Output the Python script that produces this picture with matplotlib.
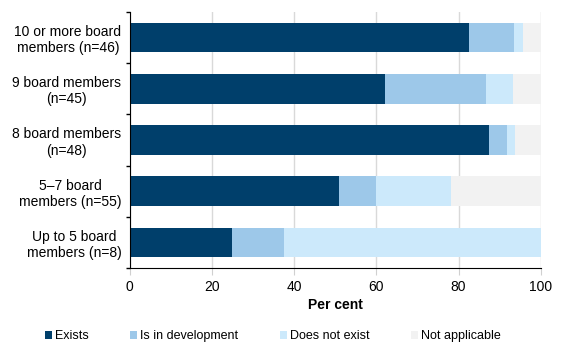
import matplotlib.pyplot as plt
import numpy as np

plt.rcParams['font.family'] = ['Liberation Sans', 'DejaVu Sans']

# categories, top to bottom
cats = ['10 or more board\nmembers (n=46)', '9 board members\n(n=45)',
        '8 board members\n(n=48)', '5\u20137 board\nmembers (n=55)',
        'Up to 5 board\nmembers (n=8)']
# per cent of each group
exists = [82.6, 62.2, 87.5, 50.9, 25.0]
in_dev = [10.9, 24.4, 4.2, 9.1, 12.5]
not_exist = [2.2, 6.7, 2.1, 18.2, 62.5]
not_app = [4.3, 6.7, 6.2, 21.8, 0.0]

series = [('Exists', exists, '#003f6b'),
          ('Is in development', in_dev, '#9dc8e9'),
          ('Does not exist', not_exist, '#cce9fb'),
          ('Not applicable', not_app, '#f2f2f2')]

fig = plt.figure(figsize=(5.65, 3.5), dpi=100)
ax = fig.add_axes([0.2296, 0.234, 0.7274, 0.732])

y = np.arange(len(cats))
left = np.zeros(len(cats))
for name, vals, col in series:
    ax.barh(y, vals, left=left, height=0.58, color=col, label=name, zorder=2)
    left += np.array(vals)

ax.set_xlim(0, 100)
ax.set_ylim(len(cats) - 0.5, -0.5)
ax.set_xticks(np.arange(0, 101, 20))
ax.set_yticks(y)
ax.set_yticklabels(cats, fontsize=10, multialignment='center')
ax.set_yticks(np.arange(-0.5, len(cats)), minor=True)
ax.tick_params(axis='y', which='major', length=0, pad=6)
ax.tick_params(axis='y', which='minor', length=3, width=1, direction='out')
ax.tick_params(axis='x', length=5, color='#d0d0d0', labelsize=10)
ax.xaxis.grid(True, color='#d9d9d9', lw=1, zorder=0)
for s in ['top', 'right']:
    ax.spines[s].set_visible(False)
ax.set_xlabel('Per cent', fontsize=10, fontweight='bold', labelpad=3)

fig.legend(loc='lower center', bbox_to_anchor=(0.483, -0.01), ncol=4, frameon=False,
           fontsize=9, handlelength=0.55, handleheight=0.55, handletextpad=0.25,
           columnspacing=3.3)

fig.savefig('out.png', dpi=100)
